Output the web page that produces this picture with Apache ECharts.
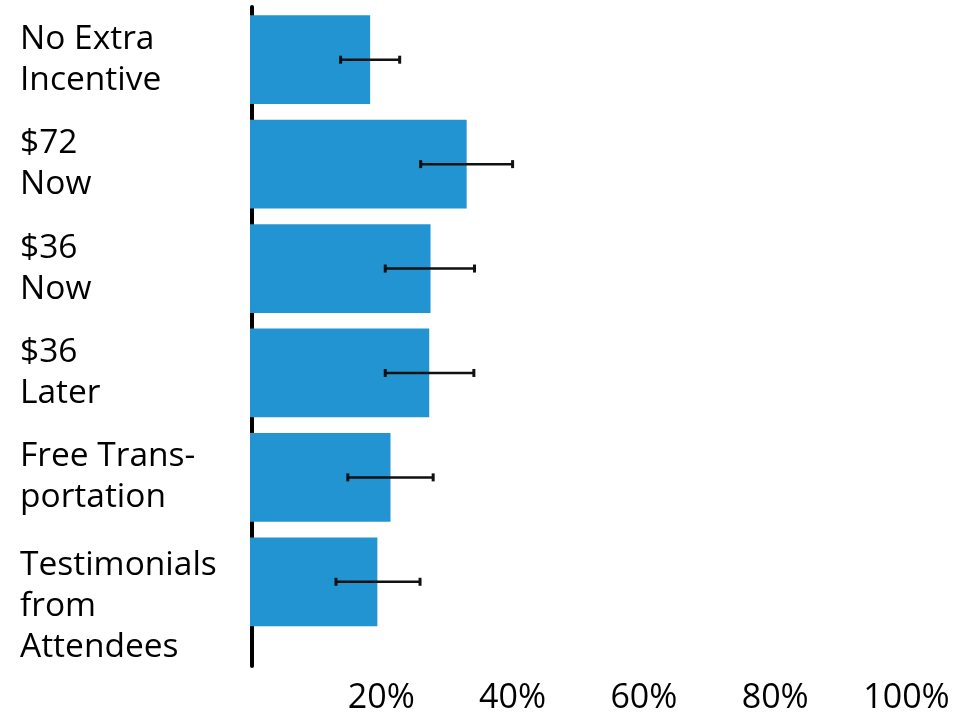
<!DOCTYPE html>
<html>
<head>
<meta charset="utf-8">
<script src="https://cdn.jsdelivr.net/npm/echarts@6/dist/echarts.min.js"></script>
<style>
  html, body { margin: 0; padding: 0; background: #fff; }
  #chart { width: 979px; height: 715px; }
</style>
</head>
<body>
<div id="chart"></div>
<script>
// categories, top to bottom
const categories = [
  'No Extra\nIncentive',
  '$72\nNow',
  '$36\nNow',
  '$36\nLater',
  'Free Trans-\nportation',
  'Testimonials\nfrom\nAttendees'
];
// share (%) per incentive
const values = [18.3, 33.0, 27.5, 27.3, 21.4, 19.4];
// error bar ends (%)
const errLow = [13.8, 26.0, 20.6, 20.6, 14.9, 13.1];
const errHigh = [22.8, 40.0, 34.2, 34.1, 27.9, 25.9];
const xTicks = [0, 20, 40, 60, 80, 100];

const font = '"Open Sans", "Noto Sans", sans-serif';
const chart = echarts.init(document.getElementById('chart'));

const errData = categories.map((c, i) => [errLow[i], errHigh[i], i]);

const option = {
  animation: false,
  backgroundColor: '#fff',
  grid: [
    // bars
    { left: 250, right: 72.5, top: 7.5, bottom: 81 },
    // axis line + x labels
    { left: 250, right: 72.5, top: 7, bottom: 47 }
  ],
  xAxis: [
    { gridIndex: 0, type: 'value', min: 0, max: 100, show: false },
    {
      gridIndex: 1, type: 'value', min: 0, max: 100, interval: 20,
      axisLine: { show: false },
      axisTick: { show: false },
      splitLine: { show: false },
      axisLabel: {
        margin: 15,
        fontFamily: font,
        fontSize: 34,
        color: '#000',
        formatter: v => (v === xTicks[0] ? '' : v + '%')
      }
    }
  ],
  yAxis: [
    {
      gridIndex: 0, type: 'category', data: categories, inverse: true,
      axisLine: { show: false },
      axisTick: { show: false },
      axisLabel: {
        interval: 0,
        hideOverlap: false,
        align: 'left',
        margin: 230,
        fontFamily: font,
        fontSize: 33.5,
        lineHeight: 41,
        color: '#000',
        rich: { pad: { lineHeight: 49, fontSize: 10 } },
        // longer labels hang from the same first-line position
        formatter: v => (v.split('\n').length > 2 ? '{pad| }\n' + v : v)
      }
    },
    {
      gridIndex: 1, type: 'value', min: 0, max: 1,
      offset: -1.5,
      axisLine: { show: true, lineStyle: { color: '#000', width: 4 } },
      axisTick: { show: false },
      axisLabel: { show: false },
      splitLine: { show: false }
    }
  ],
  series: [
    {
      type: 'bar',
      xAxisIndex: 0,
      yAxisIndex: 0,
      data: values,
      barCategoryGap: '15%',
      itemStyle: { color: '#2394d2' }
    },
    {
      type: 'custom',
      xAxisIndex: 0,
      yAxisIndex: 0,
      data: errData,
      encode: { x: [0, 1], y: 2 },
      z: 5,
      renderItem: function (params, api) {
        const a = api.coord([api.value(0), api.value(2)]);
        const b = api.coord([api.value(1), api.value(2)]);
        const cap = 4;
        const style = { stroke: '#111', lineWidth: 2.5 };
        return {
          type: 'group',
          children: [
            { type: 'line', shape: { x1: a[0], y1: a[1], x2: b[0], y2: b[1] }, style: style },
            { type: 'line', shape: { x1: a[0], y1: a[1] - cap, x2: a[0], y2: a[1] + cap }, style: { stroke: '#111', lineWidth: 3 } },
            { type: 'line', shape: { x1: b[0], y1: b[1] - cap, x2: b[0], y2: b[1] + cap }, style: { stroke: '#111', lineWidth: 3 } }
          ]
        };
      }
    }
  ]
};

chart.setOption(option);
</script>
</body>
</html>
